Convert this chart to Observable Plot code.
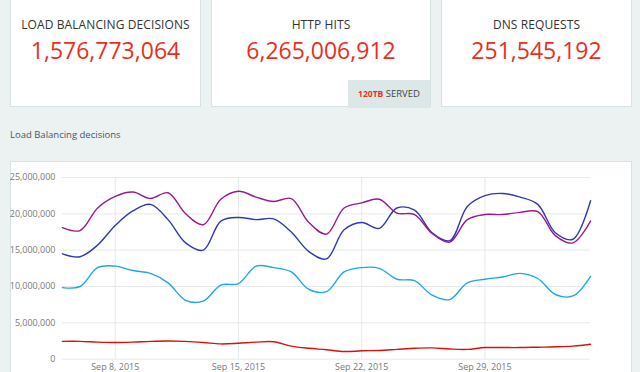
<!DOCTYPE html>
<html>
<head>
<meta charset="utf-8">
<script src="https://cdn.jsdelivr.net/npm/d3@7"></script>
<script src="https://cdn.jsdelivr.net/npm/@observablehq/plot@0.6"></script>
<style>
  html, body { margin: 0; padding: 0; }
  body { width: 640px; height: 372px; overflow: hidden; background: #ecf2f2; font-family: "Open Sans", sans-serif; position: relative; }
  .card { position: absolute; top: -5px; height: 112px; background: #fff; border: 1px solid #d6e3e3; box-sizing: border-box; text-align: center; }
  .card .t { position: absolute; left: 0; right: 0; top: 23px; font-size: 12px; color: #333; line-height: 12px; letter-spacing: 0.1px; }
  .card .n { position: absolute; left: 0; right: 0; top: 42px; font-size: 23px; color: #ea2e1e; line-height: 24px; }
  .served { position: absolute; left: 348px; top: 80px; width: 82px; height: 28px; background: #dee7e7; font-size: 9.5px; color: #444; line-height: 28px; text-align: center; }
  .served b { color: #e8322a; font-weight: 700; font-size: 8.5px; }
  .sect { position: absolute; left: 10px; top: 128px; font-size: 9.5px; color: #4a5263; }
  .panel { position: absolute; left: 10px; top: 161px; width: 622px; height: 230px; background: #fff; border: 1px solid #d6e3e3; box-sizing: border-box; }
  #chart { position: absolute; left: -1px; top: -1px; }
</style>
</head>
<body>
<div class="card" style="left:10px;width:191px;"><div class="t">LOAD BALANCING DECISIONS</div><div class="n">1,576,773,064</div></div>
<div class="card" style="left:211px;width:220px;"><div class="t">HTTP HITS</div><div class="n">6,265,006,912</div></div>
<div class="served"><b>120TB</b> SERVED</div>
<div class="card" style="left:441px;width:191px;"><div class="t">DNS REQUESTS</div><div class="n">251,545,192</div></div>
<div class="sect">Load Balancing decisions</div>
<div class="panel"><div id="chart"></div></div>
<script>
const dates = ["2015-09-05","2015-09-06","2015-09-07","2015-09-08","2015-09-09","2015-09-10","2015-09-11","2015-09-12","2015-09-13","2015-09-14","2015-09-15","2015-09-16","2015-09-17","2015-09-18","2015-09-19","2015-09-20","2015-09-21","2015-09-22","2015-09-23","2015-09-24","2015-09-25","2015-09-26","2015-09-27","2015-09-28","2015-09-29","2015-09-30","2015-10-01","2015-10-02","2015-10-03","2015-10-04","2015-10-05"];
const seriesA = [18.1,17.7,20.8,22.4,23.0,22.1,22.9,20.0,18.5,22.0,23.1,22.3,21.7,22.1,18.8,17.2,20.8,21.5,22.0,20.1,19.9,17.3,16.1,19.2,19.9,19.9,20.2,20.3,17.0,16.0,19.0];
const seriesB = [14.5,14.1,15.7,18.4,20.4,21.3,19.2,16.0,15.0,19.0,19.5,19.2,19.3,17.5,14.8,13.8,17.8,18.8,18.0,20.8,20.5,17.4,16.3,21.0,22.5,22.8,22.3,21.3,17.4,16.5,21.8];
const seriesC = [9.85,10.0,12.6,12.8,12.2,11.8,10.5,8.1,8.0,10.2,10.4,12.8,12.6,12.0,9.6,9.3,12.0,12.6,12.5,11.0,10.8,8.8,8.2,10.5,11.0,11.3,11.8,11.1,8.9,8.7,11.4];
const seriesD = [2.45,2.45,2.35,2.3,2.35,2.45,2.5,2.45,2.3,2.1,2.2,2.35,2.4,1.8,1.5,1.3,1.05,1.15,1.2,1.35,1.5,1.55,1.4,1.35,1.6,1.6,1.6,1.65,1.7,1.8,2.05];
const seriesNames = ["Series C", "Series D", "Series B", "Series A"];
const seriesColors = ["#1fa6ec", "#d8110c", "#3038b4", "#961a8e"];
const xTicks = ["2015-09-08","2015-09-15","2015-09-22","2015-09-29"];
const yTicks = [0, 5000000, 10000000, 15000000, 20000000, 25000000];

const valuesByName = {"Series A": seriesA, "Series B": seriesB, "Series C": seriesC, "Series D": seriesD};
const rows = [];
for (const name of seriesNames) {
  valuesByName[name].forEach((v, i) => rows.push({series: name, date: new Date(dates[i]), value: v * 1e6}));
}

const chart = Plot.plot({
  width: 622,
  height: 222,
  marginLeft: 52,
  marginRight: 41,
  marginTop: 16,
  marginBottom: 24,
  style: {fontFamily: "Open Sans, sans-serif", fontSize: "9px", color: "#666", background: "transparent"},
  x: {type: "utc", domain: [new Date(dates[0]), new Date(dates[dates.length - 1])]},
  y: {domain: [0, 25000000]},
  color: {type: "categorical", domain: seriesNames, range: seriesColors},
  marks: [
    Plot.gridY(yTicks, {stroke: "#e6e9ea", strokeOpacity: 1, strokeWidth: 1}),
    Plot.gridX(xTicks.map(d => new Date(d)), {stroke: "#e6e9ea", strokeOpacity: 1, strokeWidth: 1}),
    Plot.axisY(yTicks, {tickSize: 0, tickPadding: 7, tickFormat: d3.format(","), label: null, fill: "#777"}),
    Plot.axisX(xTicks.map(d => new Date(d)), {tickSize: 0, tickPadding: 4, tickFormat: d3.utcFormat("%b %-d, %Y"), label: null, fill: "#777"}),
    Plot.line(rows, {x: "date", y: "value", z: "series", stroke: "series", strokeWidth: 1.4, curve: "catmull-rom"})
  ]
});
document.getElementById("chart").appendChild(chart);
</script>
</body>
</html>
